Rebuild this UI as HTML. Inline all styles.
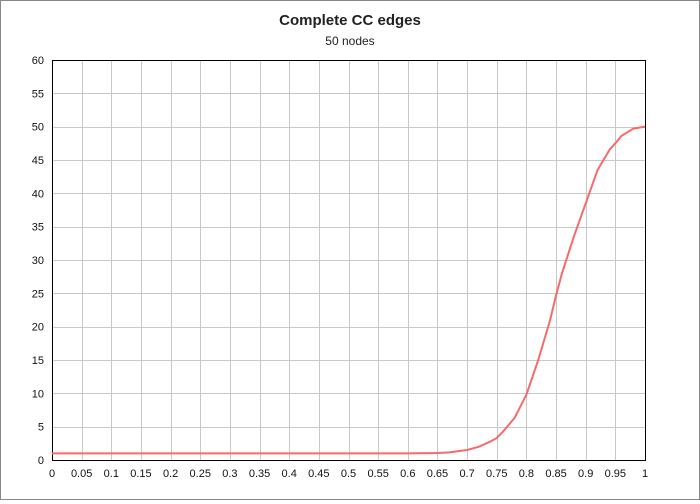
<!DOCTYPE html>
<html><head><meta charset="utf-8"><style>
body{margin:0;background:#fff;font-family:"Liberation Sans",sans-serif}
#wrap{position:relative;width:698px;height:498px;border:1px solid #888;background:#fff}
</style></head><body>
<div id="wrap">
<svg id="chart" width="698" height="498"></svg>
</div>
<script>
const xVals=[0,0.05,0.1,0.15,0.2,0.25,0.3,0.35,0.4,0.45,0.5,0.55,0.6,0.65,0.67,0.7,0.72,0.74,0.75,0.76,0.78,0.8,0.82,0.84,0.85,0.86,0.88,0.9,0.92,0.94,0.95,0.96,0.98,1.0];
const yVals=[1,1,1,1,1,1,1,1,1,1,1,1,1,1.05,1.15,1.5,2.0,2.8,3.3,4.2,6.3,9.8,15,21,24.7,28,33.5,38.5,43.5,46.5,47.5,48.6,49.7,50];
const xTicks=[0,0.05,0.1,0.15,0.2,0.25,0.3,0.35,0.4,0.45,0.5,0.55,0.6,0.65,0.7,0.75,0.8,0.85,0.9,0.95,1];
const yTicks=[0,5,10,15,20,25,30,35,40,45,50,55,60];
const NS='http://www.w3.org/2000/svg';
const svg=document.getElementById('chart');
const L=51,R=644,T=59,B=459;
const sx=v=>L+(R-L)*v, sy=v=>B-(B-T)*v/60;
function mk(t,a){const e=document.createElementNS(NS,t);for(const k in a)e.setAttribute(k,a[k]);svg.appendChild(e);return e;}
let t=mk('text',{x:349,y:24,'text-anchor':'middle','font-size':15,'font-weight':'bold',fill:'#222'});t.textContent='Complete CC edges';


t=mk('text',{x:349,y:44,'text-anchor':'middle','font-size':12,fill:'#222'});t.textContent='50 nodes';


xTicks.forEach(v=>{const x=Math.round(sx(v))+0.5;
 const g=mk('line',{x1:x,x2:x,y1:T,y2:B,stroke:'#c8c8c8'});
 
 
 const l=mk('text',{x:sx(v),y:B+17,'text-anchor':'middle','font-size':11,fill:'#111'});l.textContent=v;
 
 });
yTicks.forEach(v=>{const y=Math.round(sy(v))+0.5;
 const g=mk('line',{x1:L,x2:R,y1:y,y2:y,stroke:'#c8c8c8'});
 
 
 const l=mk('text',{x:L-8,y:sy(v)+4,'text-anchor':'end','font-size':11,fill:'#111'});l.textContent=v;
 
 });
const fr=mk('rect',{x:L+0.5,y:T+0.5,width:R-L,height:B-T,fill:'none',stroke:'#000'});


const ln=mk('polyline',{points:xVals.map((x,i)=>sx(x)+','+sy(yVals[i])).join(' '),fill:'none',stroke:'#f76a6a','stroke-width':2});


</script>
</body></html>
